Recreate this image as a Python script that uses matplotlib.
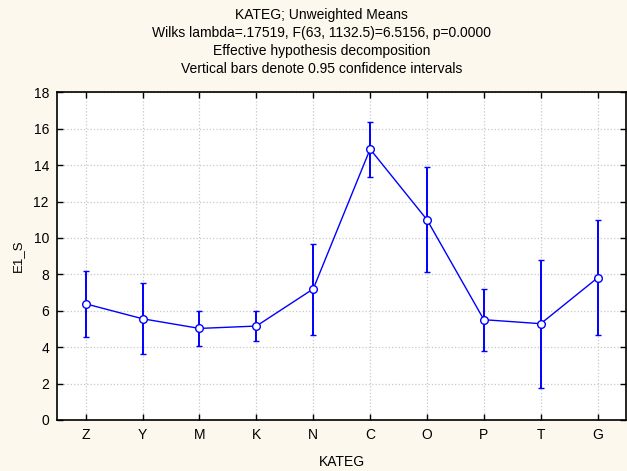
import matplotlib
matplotlib.use('Agg')
import matplotlib.pyplot as plt
import numpy as np

plt.rcParams['font.family'] = ['Liberation Sans', 'DejaVu Sans']

# Unweighted means per category with 0.95 confidence limits
categories = ['Z', 'Y', 'M', 'K', 'N', 'C', 'O', 'P', 'T', 'G']
means = [6.38, 5.56, 5.03, 5.16, 7.20, 14.88, 11.00, 5.51, 5.29, 7.81]
upper = [8.17, 7.53, 5.96, 6.00, 9.65, 16.39, 13.88, 7.20, 8.81, 10.98]
lower = [4.56, 3.63, 4.07, 4.34, 4.67, 13.35, 8.15, 3.79, 1.75, 4.69]
y_ticks = [0, 2, 4, 6, 8, 10, 12, 14, 16, 18]

means = np.array(means)
err = [means - np.array(lower), np.array(upper) - means]
x = np.arange(len(categories))

fig = plt.figure(figsize=(6.27, 4.71), dpi=100, facecolor='#fdf8ee')
ax = fig.add_axes([0.0914, 0.1083, 0.9071, 0.6957])
ax.set_facecolor('white')

ax.errorbar(x, means, yerr=err, color='#0000ff', ecolor='#0000ff', lw=1.0,
            elinewidth=1.4, capsize=2.2, capthick=1.4, marker='o', markersize=5.5,
            markerfacecolor='white', markeredgecolor='#0000ff', markeredgewidth=1.0,
            zorder=3)

ax.set_xlim(-0.5, len(categories) - 0.5)
ax.set_ylim(0, 18)
ax.set_xticks(x)
ax.set_xticklabels(categories)
ax.set_yticks(y_ticks)
ax.grid(True, color='#c8c8c8', linestyle=':', linewidth=0.9)
ax.tick_params(direction='in', top=True, right=True, length=4, width=1,
               labelsize=10, pad=6)
for s in ax.spines.values():
    s.set_linewidth(1.2)

ax.set_xlabel('KATEG', fontsize=10, labelpad=9)
ax.set_ylabel('E1_S', fontsize=9.5, labelpad=7)

titles = ['KATEG; Unweighted Means',
          'Wilks lambda=.17519, F(63, 1132.5)=6.5156, p=0.0000',
          'Effective hypothesis decomposition',
          'Vertical bars denote 0.95 confidence intervals']
for i, t in enumerate(titles):
    fig.text(0.5128, 1 - (15.5 + 17.8 * i) / 471, t, ha='center', va='center', fontsize=10)

fig.savefig('out.png', dpi=100, facecolor=fig.get_facecolor())
